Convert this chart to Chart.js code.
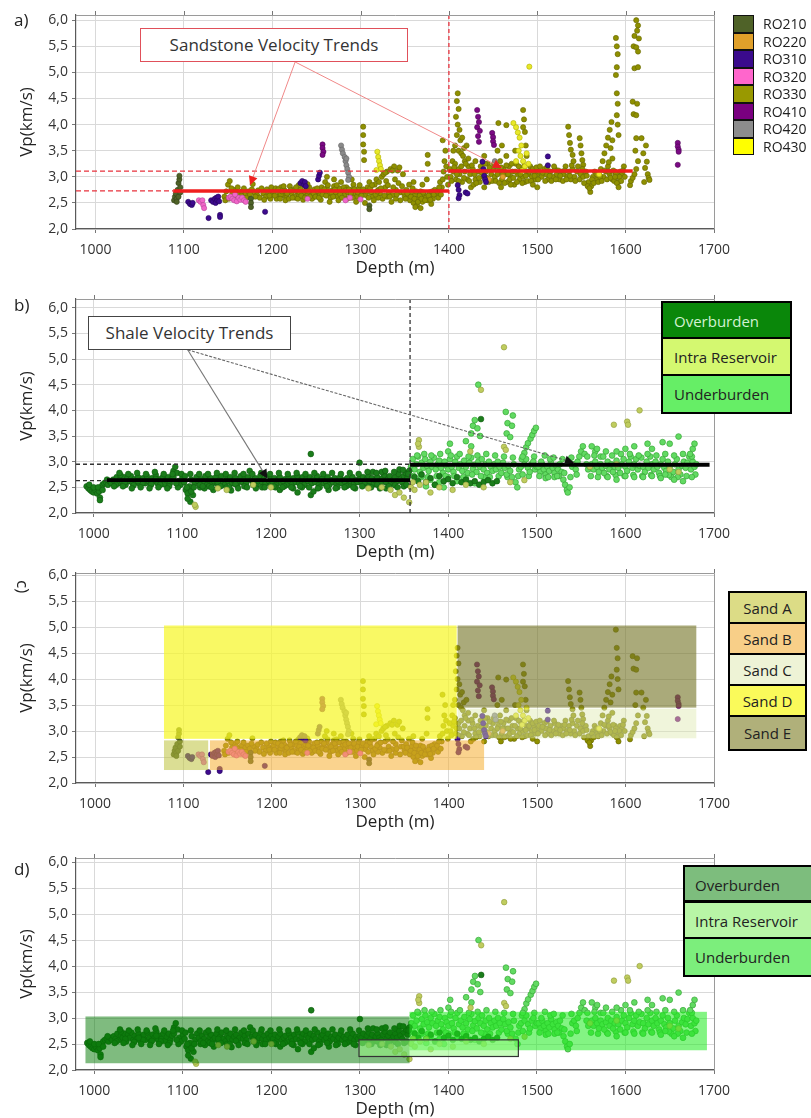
<!DOCTYPE html>
<html><head><meta charset="utf-8">
<script src="https://cdn.jsdelivr.net/npm/chart.js@4.4.1/dist/chart.umd.min.js"></script>
<style>
body{margin:0;background:#fff;font-family:'Open Sans',sans-serif;}
#wrap{position:relative;width:811px;height:1118px;overflow:hidden;background:#fff;}
canvas{position:absolute;left:0;}
.plbl{position:absolute;font-size:17px;color:#222;line-height:1;}
.callout{position:absolute;box-sizing:border-box;background:#fff;font-size:17px;color:#333;text-align:center;}
.leg{position:absolute;box-sizing:border-box;}
.legrow{box-sizing:border-box;font-size:15px;color:#222;white-space:nowrap;overflow:hidden;}
</style></head>
<body><div id="wrap">
<canvas id="ca" width="740" height="280" style="top:0px"></canvas>
<canvas id="cb" width="740" height="280" style="top:284px"></canvas>
<canvas id="cc" width="740" height="276" style="top:558px"></canvas>
<canvas id="cd" width="740" height="278" style="top:843px"></canvas>
<div class="plbl" style="left:14px;top:11px">a)</div>
<div class="plbl" style="left:14px;top:296px">b)</div>
<div class="plbl" style="top:580px;transform:rotate(90deg);transform-origin:left top;left:32px">c)</div>
<div class="plbl" style="left:14px;top:860px">d)</div>
<div class="callout" style="left:140px;top:28px;width:268px;height:34px;line-height:31px;border:1.5px solid #e0505a">Sandstone Velocity Trends</div>
<div class="callout" style="left:88px;top:316px;width:203px;height:34px;line-height:31px;border:1.5px solid #444">Shale Velocity Trends</div>
<div id="legA" class="leg" style="left:733px;top:15px;width:78px;"></div>
<div id="legB" class="leg" style="left:661px;top:301px;width:131px;border:2px solid #000;"></div>
<div id="legC" class="leg" style="left:728px;top:591px;width:79px;border:2px solid #000;"></div>
<div id="legD" class="leg" style="left:683px;top:865px;width:140px;border:2px solid #000;"></div>
</div>
<script>
// ---------- tick labels ----------
const depthTicks = [1000,1100,1200,1300,1400,1500,1600,1700];
const vpTicks = [2.0,2.5,3.0,3.5,4.0,4.5,5.0,5.5,6.0];

// ---------- panel a / c : sandstone points by reservoir unit ----------
const roNames = ['RO210','RO220','RO310','RO320','RO330','RO410','RO420','RO430'];
const ro210 = [[1089,2.55],[1090,2.62],[1091,2.68],[1092,2.58],[1093,2.75],[1094,2.88],[1095,2.95],[1095,3.02],[1096,2.80],[1094,2.62],[1092,2.52],[1096,2.70],
  [1176,2.58],[1176,2.50],[1176,2.42],[1310,2.45],[1310,2.38]];
const ro220 = [[1445,2.95],[1461,3.0]];
const ro310 = [[1105,2.52],[1107,2.48],[1109,2.46],[1110,2.50],[1128,2.21],[1131,2.55],[1133,2.52],[1135,2.58],[1136,2.50],[1137,2.60],[1138,2.55],[1139,2.62],[1140,2.53],[1141,2.27],[1141,2.23],
  [1192,2.33],[1232,2.88],[1234,2.92],[1236,2.85],[1237,2.90],[1238,2.82],[1252,2.95],[1253,3.02],[1254,3.08],
  [1410,2.84],[1411,2.75],[1412,2.65],[1411,2.59],[1419,2.70],[1421,2.68],[1438,3.29],[1439,3.15],[1440,3.02],[1441,2.95],[1442,2.90],[1512,3.39],[1512,3.22]];
const ro320 = [[1117,2.55],[1119,2.52],[1121,2.55],[1122,2.46],[1123,2.40],[1151,2.60],[1153,2.62],[1155,2.58],[1157,2.55],[1160,2.53],[1162,2.60],[1164,2.56],[1166,2.60],[1168,2.55],[1170,2.52],
  [1158,2.66],[1240,2.58],[1283,2.55],[1288,2.60],[1300,2.57]];
const ro330 = [
  [1146,2.62],[1148,2.72],[1150,2.85],[1152,2.92],[1155,2.68],[1158,2.75],[1160,2.70],[1163,2.66],[1166,2.72],[1170,2.68],[1173,2.72],[1178,2.86],[1180,2.70],[1183,2.65],[1186,2.60],[1190,2.68],[1193,2.62],[1196,2.70],[1198,2.58],[1200,2.66],
  [1147,2.55],[1151,2.58],[1154,2.78],[1157,2.62],[1161,2.80],[1165,2.64],[1168,2.78],[1171,2.60],[1175,2.66],[1177,2.76],[1181,2.62],[1184,2.74],[1188,2.78],[1191,2.56],[1194,2.76],[1197,2.64],[1199,2.80],
  [1202,2.72],[1204,2.78],[1206,2.62],[1208,2.70],[1210,2.80],[1212,2.65],[1214,2.74],[1216,2.60],[1218,2.70],[1220,2.82],[1222,2.68],[1224,2.75],[1226,2.60],[1228,2.72],[1230,2.66],[1232,2.78],[1234,2.62],[1236,2.70],[1238,2.74],[1240,2.65],[1242,2.80],[1244,2.70],[1246,2.60],[1248,2.76],[1250,2.68],
  [1205,2.58],[1215,2.55],[1225,2.62],[1235,2.56],[1245,2.58],[1210,2.66],[1230,2.84],[1240,2.86],
  [1203,2.64],[1207,2.76],[1209,2.58],[1211,2.72],[1213,2.82],[1217,2.68],[1219,2.58],[1221,2.74],[1223,2.60],[1227,2.80],[1229,2.58],[1231,2.70],[1233,2.64],[1237,2.60],[1239,2.80],[1241,2.72],[1243,2.62],[1247,2.68],[1249,2.62],
  [1252,2.72],[1254,2.65],[1256,2.80],[1258,2.70],[1260,2.90],[1262,2.78],[1264,2.68],[1266,2.60],[1268,2.74],[1270,2.82],[1272,2.70],[1274,2.62],[1276,2.78],[1278,2.90],[1280,2.72],[1282,2.65],[1284,2.80],[1286,2.70],[1288,2.60],[1290,2.75],[1292,2.85],[1294,2.68],[1296,2.62],[1298,2.78],[1300,2.70],
  [1255,2.56],[1265,2.52],[1275,2.55],[1285,2.58],[1295,2.52],[1270,2.95],[1262,3.00],[1290,2.95],
  [1251,2.78],[1253,2.60],[1257,2.66],[1259,2.76],[1261,2.64],[1263,2.84],[1267,2.70],[1269,2.62],[1271,2.76],[1273,2.84],[1277,2.66],[1279,2.60],[1281,2.80],[1283,2.74],[1287,2.76],[1289,2.68],[1291,2.60],[1293,2.76],[1297,2.70],[1299,2.84],
  [1303,3.96],[1303,3.80],[1303,3.62],[1304,3.48],[1304,3.32],[1302,2.72],[1306,2.65],[1308,2.80],[1310,2.90],[1312,2.70],[1314,2.62],[1316,2.85],[1318,2.95],[1320,2.75],[1322,2.68],[1324,3.00],[1326,3.05],[1328,2.80],[1330,3.10],[1332,2.70],[1334,3.15],[1336,2.65],[1338,3.20],[1340,2.75],[1342,3.12],[1344,3.18],[1346,2.70],[1348,3.05],[1350,2.62],
  [1305,2.50],[1315,2.55],[1325,2.58],[1335,2.52],[1345,2.55],[1320,2.60],[1330,2.62],[1340,2.58],[1328,3.08],[1336,3.12],
  [1301,2.64],[1303,2.76],[1307,2.72],[1309,2.60],[1311,2.78],[1313,2.84],[1317,2.66],[1319,2.72],[1321,2.90],[1323,2.78],[1327,2.64],[1329,2.92],[1331,2.84],[1333,2.62],[1337,2.80],[1339,2.95],[1341,2.66],[1343,2.88],[1347,2.82],[1349,2.70],
  [1352,2.75],[1354,2.62],[1356,2.55],[1358,2.70],[1360,2.50],[1362,2.66],[1364,2.45],[1366,2.58],[1368,2.72],[1370,2.52],[1372,2.65],[1374,2.60],[1376,2.55],[1378,2.70],[1380,2.62],[1382,2.58],[1384,2.75],[1386,2.66],[1388,2.60],[1390,2.90],[1392,2.80],[1394,3.10],[1395,3.30],[1396,3.50],[1397,3.20],[1398,3.00],[1399,2.85],
  [1376,3.42],[1376,3.25],[1393,3.70],[1370,2.85],[1375,2.95],[1360,2.90],[1355,2.85],[1362,2.42],[1368,2.40],[1380,2.48],
  [1351,2.58],[1353,2.68],[1357,2.62],[1359,2.78],[1361,2.58],[1363,2.72],[1365,2.52],[1367,2.64],[1369,2.58],[1371,2.70],[1373,2.55],[1377,2.64],[1379,2.56],[1381,2.72],[1383,2.66],[1387,2.72],[1389,2.80],[1391,2.66],[1393,2.95],
  [1410,4.60],[1409,4.45],[1411,4.30],[1408,4.15],[1410,4.00],[1412,3.90],[1409,3.80],[1413,3.70],[1407,3.60],[1411,3.50],[1415,3.75],[1414,3.45],[1417,3.55],[1418,3.30],[1420,3.60],[1416,3.40],[1422,3.20],[1405,3.50],[1404,3.30],[1407,3.25],[1411,3.15],
  [1402,3.00],[1405,3.10],[1408,2.95],[1412,3.05],[1415,2.90],[1418,3.10],[1421,2.95],[1424,3.05],[1427,3.15],[1430,2.95],[1433,3.10],[1436,3.20],[1439,3.00],[1442,3.10],[1445,2.90],[1448,3.05],[1450,3.15],
  [1425,2.80],[1428,2.85],[1435,2.90],[1440,2.80],[1430,3.30],[1440,3.40],[1444,3.25],[1422,3.35],
  [1401,3.15],[1403,2.92],[1406,3.18],[1409,3.05],[1411,2.92],[1414,3.20],[1417,2.98],[1419,3.25],[1423,2.92],[1426,3.22],[1429,3.05],[1431,2.88],[1434,2.98],[1437,3.08],[1441,3.25],[1443,2.98],[1446,3.18],[1449,2.92],
  [1452,3.00],[1454,3.20],[1456,3.10],[1458,3.30],[1460,2.95],[1462,3.15],[1464,3.05],[1466,2.90],[1468,3.20],[1470,3.00],[1472,3.10],[1474,2.85],[1476,3.25],[1478,3.05],[1480,2.95],[1482,3.15],[1484,3.00],[1486,2.90],[1488,3.10],[1490,3.05],[1492,3.20],[1494,3.00],[1496,3.10],[1498,2.95],[1500,3.05],
  [1451,3.25],[1453,2.92],[1455,3.05],[1457,2.88],[1459,3.18],[1461,3.05],[1463,2.88],[1465,3.22],[1467,3.05],[1469,2.95],[1471,3.25],[1473,2.98],[1475,3.10],[1477,2.90],[1479,3.20],[1481,3.05],[1483,2.88],[1485,3.20],[1487,3.02],[1489,2.92],[1491,3.10],[1493,2.92],[1495,3.15],[1497,3.02],[1499,3.18],
  [1456,4.03],[1465,3.99],[1455,3.50],[1460,3.60],[1465,3.40],[1484,4.28],[1485,4.10],[1484,3.95],[1486,3.86],[1487,3.60],[1488,3.40],[1459,2.80],[1470,2.85],[1495,2.85],[1500,2.80],[1475,3.50],
  [1502,3.10],[1505,3.00],[1508,3.15],[1510,3.05],[1512,2.95],[1515,3.10],[1518,3.00],[1520,3.15],[1522,3.05],[1525,2.95],[1528,3.10],[1530,3.05],[1532,3.20],[1534,3.00],[1536,3.10],[1538,2.95],[1540,3.15],[1542,3.00],[1545,3.10],[1548,2.95],[1550,3.05],
  [1501,2.95],[1503,3.20],[1506,3.08],[1509,2.92],[1511,3.18],[1514,3.02],[1516,2.92],[1519,3.20],[1521,2.95],[1524,3.12],[1526,3.02],[1529,2.92],[1531,3.12],[1533,2.95],[1537,3.02],[1539,3.22],[1543,2.92],[1546,3.20],[1549,3.05],
  [1535,3.96],[1536,3.80],[1537,3.65],[1538,3.52],[1540,3.42],[1541,3.30],[1548,3.74],[1549,3.60],[1550,3.45],[1551,3.32],[1552,3.23],
  [1552,3.00],[1555,3.10],[1558,2.90],[1560,2.71],[1561,2.82],[1563,3.00],[1565,3.10],[1568,2.95],[1570,3.05],[1572,3.15],[1575,3.00],[1578,3.10],[1580,3.20],[1582,3.05],[1585,2.95],[1588,3.10],[1590,3.00],[1592,2.90],[1594,3.10],[1596,3.05],[1598,3.20],
  [1551,3.15],[1553,2.88],[1556,3.02],[1557,2.82],[1559,2.78],[1562,2.95],[1564,2.88],[1567,3.05],[1569,2.90],[1571,3.00],[1573,2.92],[1576,3.12],[1579,2.95],[1581,3.10],[1583,2.98],[1586,3.12],[1587,2.92],[1589,3.05],[1593,3.00],[1595,2.92],[1597,3.12],[1599,3.00],
  [1574,3.30],[1576,3.45],[1578,3.60],[1580,3.75],[1582,3.90],[1584,4.05],[1583,3.55],[1585,3.35],[1581,3.28],[1585,3.70],
  [1589,5.66],[1590,5.50],[1591,5.35],[1590,5.10],[1589,4.95],[1590,4.60],[1591,4.40],[1590,4.18],[1591,4.00],[1592,3.80],[1588,3.00],[1590,2.88],[1592,2.80],
  [1605,2.84],[1606,2.92],[1608,2.98],[1610,3.05],[1612,3.15],[1614,3.30],[1611,3.50],[1612,3.74],
  [1612,6.00],[1614,5.90],[1613,5.80],[1610,5.70],[1615,5.65],[1609,5.50],[1612,5.48],[1614,5.40],[1610,5.08],[1614,5.10],[1608,4.44],[1613,4.40],[1609,4.20],[1612,4.18],
  [1618,3.74],[1620,3.45],[1623,3.60],[1624,3.29],[1622,3.17],[1625,3.05],[1626,2.98],[1627,2.94],[1621,2.90]];
const ro410 = [[1257,3.62],[1257,3.55],[1258,3.48],[1257,3.42],[1432,4.28],[1433,4.15],[1434,4.05],[1432,3.95],[1435,3.88],[1433,3.78],[1434,3.67],
  [1449,3.84],[1450,3.76],[1450,3.68],[1451,3.61],[1659,3.65],[1659,3.58],[1660,3.52],[1660,3.48],[1659,3.23]];
const ro420 = [[1278,3.60],[1279,3.52],[1280,3.45],[1282,3.38],[1283,3.30],[1284,3.22],[1285,3.15],[1286,3.08],[1284,3.35],[1287,3.00],[1286,2.94],[1452,3.30],[1453,3.22]];
const ro430 = [[1319,3.48],[1320,3.38],[1321,3.30],[1322,3.22],[1323,3.15],[1318,3.13],
  [1473,4.03],[1476,3.95],[1478,3.85],[1480,3.75],[1482,3.60],[1479,3.50],[1481,3.40],[1484,3.30],[1486,3.20],[1483,3.12],[1476,3.30],[1488,3.45],[1490,3.25],[1491,5.11],[1570,3.05]];

// ---------- panel b / d : shale points by zone ----------
const zoneNames = ['Overburden','Intra Reservoir','Underburden'];
const overburden = [
  [992,2.52],[994,2.48],[996,2.45],[998,2.42],[1000,2.40],[1002,2.44],[1004,2.38],[1006,2.42],[1008,2.50],[1010,2.55],[1012,2.58],[1014,2.60],[1016,2.55],[1018,2.62],[1020,2.58],[995,2.55],[1000,2.50],[1005,2.50],[1007,2.30],[1007,2.25],[1010,2.45],[1015,2.65],
  [1022,2.65],[1024,2.60],[1026,2.70],[1028,2.58],[1030,2.66],[1032,2.62],[1034,2.70],[1036,2.55],[1038,2.68],[1040,2.62],[1042,2.72],[1044,2.58],[1046,2.66],[1048,2.60],[1050,2.70],[1052,2.56],[1054,2.64],[1056,2.68],[1058,2.58],[1060,2.72],[1062,2.62],[1064,2.55],[1066,2.68],[1068,2.62],[1070,2.74],[1072,2.58],[1074,2.66],[1076,2.60],[1078,2.70],[1080,2.56],[1082,2.64],[1084,2.70],[1086,2.58],[1088,2.66],[1090,2.82],[1092,2.90],[1094,2.78],[1096,2.62],[1098,2.55],[1100,2.68],
  [1025,2.55],[1035,2.60],[1045,2.54],[1055,2.58],[1065,2.56],[1075,2.55],[1085,2.52],[1095,2.50],[1030,2.74],[1050,2.62],[1070,2.66],[1090,2.70],
  [1023,2.52],[1029,2.78],[1033,2.52],[1039,2.76],[1043,2.48],[1049,2.78],[1053,2.50],[1059,2.76],[1063,2.48],[1069,2.80],[1073,2.50],[1079,2.76],[1083,2.48],[1089,2.76],[1093,2.58],[1099,2.76],
  [1102,2.60],[1104,2.45],[1106,2.38],[1108,2.52],[1110,2.65],[1112,2.35],[1114,2.58],[1116,2.70],[1118,2.62],[1120,2.50],[1122,2.66],[1124,2.60],[1126,2.72],[1128,2.55],[1130,2.64],[1132,2.68],[1134,2.58],[1136,2.62],[1138,2.70],[1140,2.56],[1142,2.64],[1144,2.72],[1146,2.60],[1148,2.55],[1150,2.66],[1152,2.62],[1154,2.70],[1156,2.58],[1158,2.64],[1160,2.68],[1162,2.55],[1164,2.62],[1166,2.72],[1168,2.60],[1170,2.66],[1172,2.58],[1174,2.70],[1176,2.82],[1178,2.64],[1180,2.60],[1182,2.68],[1184,2.55],[1186,2.62],[1188,2.72],[1190,2.60],[1192,2.66],[1194,2.58],[1196,2.70],[1198,2.62],[1200,2.66],
  [1105,2.50],[1110,2.42],[1109,2.22],[1106,2.28],[1120,2.55],[1130,2.52],[1140,2.60],[1150,2.50],[1160,2.56],[1170,2.52],[1180,2.55],[1190,2.50],[1200,2.55],[1125,2.48],[1135,2.45],[1155,2.44],
  [1103,2.72],[1109,2.76],[1113,2.50],[1119,2.76],[1123,2.52],[1129,2.76],[1133,2.50],[1139,2.78],[1143,2.52],[1149,2.76],[1153,2.50],[1159,2.78],[1163,2.48],[1169,2.76],[1173,2.50],[1179,2.76],[1183,2.48],[1189,2.78],[1193,2.50],[1199,2.76],
  [1202,2.60],[1204,2.68],[1206,2.55],[1208,2.64],[1210,2.70],[1212,2.58],[1214,2.62],[1216,2.66],[1218,2.55],[1220,2.70],[1222,2.62],[1224,2.56],[1226,2.68],[1228,2.60],[1230,2.72],[1232,2.58],[1234,2.64],[1236,2.70],[1238,2.55],[1240,2.66],[1242,2.62],[1245,3.15],[1244,2.70],[1246,2.58],[1248,2.66],[1250,2.60],[1252,2.72],[1254,2.55],[1256,2.64],[1258,2.68],[1260,2.58],[1262,2.62],[1264,2.70],[1266,2.55],[1268,2.64],[1270,2.60],[1272,2.68],[1274,2.56],[1276,2.62],[1278,2.70],[1280,2.58],[1282,2.64],[1284,2.60],[1286,2.68],[1288,2.55],[1290,2.62],[1292,2.70],[1294,2.58],[1296,2.64],[1298,2.60],[1300,2.66],
  [1205,2.50],[1215,2.52],[1225,2.48],[1235,2.50],[1245,2.35],[1248,2.42],[1255,2.50],[1265,2.45],[1275,2.50],[1285,2.52],[1295,2.48],[1230,2.40],[1210,2.45],
  [1203,2.52],[1209,2.78],[1213,2.50],[1219,2.76],[1223,2.50],[1229,2.78],[1233,2.52],[1239,2.76],[1243,2.50],[1249,2.78],[1253,2.48],[1259,2.76],[1263,2.52],[1269,2.78],[1273,2.48],[1279,2.76],[1283,2.50],[1289,2.78],[1293,2.50],[1299,2.76],
  [1302,2.62],[1304,2.70],[1306,2.58],[1308,2.66],[1310,2.72],[1312,2.60],[1314,2.68],[1316,2.56],[1318,2.64],[1320,2.70],[1322,2.62],[1324,2.58],[1326,2.68],[1328,2.74],[1330,2.60],[1332,2.66],[1334,2.72],[1336,2.58],[1338,2.64],[1340,2.70],[1342,2.62],[1344,2.76],[1346,2.66],[1348,2.60],[1350,2.72],[1352,2.78],[1354,2.68],[1356,2.82],
  [1300,2.98],[1310,2.52],[1320,2.55],[1330,2.48],[1340,2.54],[1350,2.52],[1315,2.80],[1325,2.80],[1345,2.85],
  [1303,2.52],[1309,2.80],[1313,2.50],[1319,2.78],[1323,2.48],[1329,2.82],[1333,2.52],[1339,2.80],[1343,2.50],[1349,2.84],[1353,2.55],[1355,2.76],
  [1362,2.70],[1366,2.62],[1370,2.75],[1375,2.60],[1380,2.68],[1385,2.55],[1390,2.72],[1395,2.62],[1400,2.66],[1405,2.58],[1410,2.70],[1415,2.60],[1420,2.65],[1425,2.58],[1430,2.62],[1435,2.55],[1440,2.60],[1445,2.64],[1450,2.58],[1455,2.62],[1437,3.83]];
const intraReservoir = [[1340,2.35],[1345,2.40],[1350,2.30],[1356,2.21],[1358,2.50],[1360,2.60],[1362,2.45],[1367,3.42],[1367,3.29],[1366,3.35],[1368,2.55],[1375,2.60],[1380,2.40],[1390,2.50],[1405,2.45],[1420,2.55],[1425,3.20],[1440,2.50],
  [1463,5.23],[1437,4.40],[1463,3.29],[1465,3.23],[1470,2.60],[1486,2.64],[1587,3.72],[1602,3.78],[1603,3.72],[1616,4.00],[1590,2.95],[1560,2.90],
  [1200,2.50],[1180,2.55],[1150,2.45],[1115,2.12],[1114,2.16],[1140,2.48],[1325,2.50],[1335,2.45],[1310,2.48],[1650,2.85],[1660,2.80]];
const underburden = [
  [1358,2.90],[1360,3.05],[1362,2.85],[1364,2.95],[1366,3.10],[1368,2.80],[1370,2.98],[1372,2.88],[1374,3.05],[1376,2.92],[1378,2.82],[1380,3.00],[1382,2.90],[1384,3.08],[1386,2.85],[1388,2.95],[1390,3.02],[1392,2.88],[1394,2.78],[1396,3.00],[1398,2.92],[1400,2.85],[1402,3.05],[1404,2.90],[1406,2.80],[1408,3.00],[1410,3.10],[1412,2.88],[1414,2.95],[1416,2.82],[1418,3.02],[1420,2.90],[1422,2.78],[1424,2.98],[1426,3.08],[1428,2.86],[1430,2.94],[1432,2.80],[1434,3.00],[1436,2.90],[1438,3.05],[1440,2.85],[1442,2.95],[1444,2.78],[1446,3.00],[1448,2.90],[1450,2.82],
  [1400,3.20],[1402,3.35],[1426,3.55],[1428,3.70],[1430,3.81],[1433,3.65],[1436,3.50],[1426,3.30],[1420,3.40],[1434,4.50],
  [1370,2.70],[1380,2.65],[1390,2.60],[1400,2.70],[1410,2.62],[1420,2.68],[1430,2.58],[1440,2.70],[1385,2.55],[1395,2.50],[1375,2.52],
  [1361,2.72],[1365,3.12],[1369,2.72],[1373,3.15],[1377,2.70],[1381,3.12],[1387,2.72],[1391,3.15],[1397,2.72],[1403,3.12],[1407,2.72],[1413,3.15],[1417,2.70],[1423,3.10],[1427,2.75],[1433,3.12],[1437,2.72],[1443,3.15],[1447,2.70],[1453,3.12],[1457,2.72],[1463,3.10],[1467,2.70],[1473,3.08],[1479,2.72],[1483,3.05],[1491,2.72],[1497,3.10],
  [1452,2.95],[1454,2.85],[1456,3.00],[1458,2.90],[1460,2.78],[1462,2.98],[1464,2.88],[1466,2.75],[1468,2.92],[1470,2.82],[1472,2.70],[1474,2.95],[1476,2.60],[1478,2.50],[1480,2.85],[1482,2.90],[1484,2.75],[1486,2.95],[1488,3.05],[1490,2.88],[1492,2.80],[1494,2.95],[1496,3.00],[1498,2.85],[1500,2.90],
  [1465,3.97],[1473,3.90],[1467,3.75],[1472,3.70],[1466,3.55],[1470,3.48],[1486,3.17],[1488,3.28],[1490,3.36],[1493,3.45],[1495,3.52],[1497,3.60],[1499,3.66],[1484,3.10],
  [1502,2.90],[1504,2.80],[1506,2.95],[1508,2.85],[1510,2.75],[1512,2.90],[1514,2.82],[1516,2.98],[1518,2.88],[1520,2.78],[1522,2.92],[1524,2.85],[1526,2.95],[1528,2.80],[1530,2.65],[1532,2.55],[1534,2.45],[1535,2.40],[1537,2.50],[1538,2.70],[1540,2.90],[1542,2.95],[1544,2.85],[1546,3.00],[1548,3.10],[1550,3.20],[1552,3.30],[1554,3.15],[1556,2.95],[1558,2.85],[1560,2.90],
  [1510,2.68],[1520,2.70],[1525,2.72],[1505,3.00],[1515,3.05],[1562,3.30],[1566,3.20],[1572,3.10],
  [1503,2.72],[1509,3.12],[1513,2.70],[1519,3.08],[1523,2.72],[1529,3.05],[1531,2.78],[1539,3.08],[1545,2.75],[1557,3.10],[1561,2.72],[1565,3.12],[1569,2.70],[1575,3.10],[1579,2.72],[1585,3.12],[1589,2.74],[1595,3.15],[1599,2.72],
  [1562,2.95],[1564,2.85],[1566,3.00],[1568,2.90],[1570,2.80],[1572,2.95],[1574,2.88],[1576,2.78],[1578,2.92],[1580,3.00],[1582,2.85],[1584,2.95],[1586,2.80],[1588,2.90],[1590,3.02],[1592,2.88],[1594,2.78],[1596,2.95],[1598,3.05],[1600,2.90],[1602,2.82],[1604,3.00],[1606,3.10],[1608,2.88],[1610,2.95],[1612,3.05],[1614,2.85],[1616,2.92],[1618,3.08],[1620,2.90],[1622,2.80],[1624,3.00],[1626,2.88],[1628,3.10],[1630,2.95],[1632,2.85],[1634,3.00],[1636,2.90],[1638,2.78],[1640,2.95],[1642,3.05],[1644,2.88],[1646,2.82],[1648,3.00],[1650,2.90],[1652,2.70],[1654,2.80],[1656,2.95],[1658,3.05],[1660,2.85],[1662,2.75],[1664,2.92],[1666,3.00],[1668,2.88],[1670,2.98],[1672,3.10],[1674,2.85],[1676,3.00],[1678,2.90],[1680,2.95],
  [1605,3.15],[1609,2.74],[1615,3.12],[1619,2.72],[1625,3.15],[1629,2.74],[1635,3.12],[1639,2.72],[1645,3.15],[1649,2.74],[1655,3.12],[1659,2.70],[1665,3.15],[1669,2.72],[1675,3.10],[1679,2.75],
  [1580,2.70],[1600,2.72],[1620,2.70],[1640,2.68],[1655,2.65],[1665,2.62],[1675,2.70],[1590,2.65],[1610,2.70],[1630,2.72],[1645,2.75],
  [1590,3.20],[1600,3.25],[1610,3.30],[1625,3.35],[1630,3.25],[1642,3.38],[1650,3.35],[1660,3.49],[1673,3.15],[1676,3.25],[1678,3.35],[1568,3.25],[1578,3.20]];

// ---------- interpreted trends and zones ----------
const sandTrends = [[1088,1400,2.73],[1400,1608,3.11]];
const sandBreak = 1400;
const shaleTrends = [[1015,1357,2.64],[1357,1695,2.94]];
const shaleBreak = 1357;
const sandNames = ['Sand A','Sand B','Sand C','Sand D','Sand E'];
const sandZones = [[1078,1128,2.25,2.82],[1130,1440,2.25,2.82],[1410,1680,2.86,3.43],[1078,1409,2.85,5.03],[1410,1680,3.45,5.03]];
const shaleZones = [[990,1356,2.13,3.03],[1299,1479,2.26,2.58],[1356,1692,2.38,3.12]];

// ---------- styles ----------
const roFill = {RO210:'#4f6228',RO220:'#e0a02a',RO310:'#3d0a8e',RO320:'#f066c8',RO330:'#8f9000',RO410:'#7b0a84',RO420:'#8a8a8a',RO430:'#e8e82a'};
const roEdge = {RO210:'#34431a',RO220:'#a8741a',RO310:'#26055a',RO320:'#b8449a',RO330:'#666600',RO410:'#4f0556',RO420:'#666666',RO430:'#b0b000'};
const roLeg = {RO210:'#4f6228',RO220:'#e0a02a',RO310:'#3a0a8c',RO320:'#ff66cc',RO330:'#999900',RO410:'#7a0080',RO420:'#8c8c8c',RO430:'#ffff00'};
const roData = {RO210:ro210,RO220:ro220,RO310:ro310,RO320:ro320,RO330:ro330,RO410:ro410,RO420:ro420,RO430:ro430};
const drawOrderA = ['RO430','RO420','RO410','RO310','RO320','RO210','RO220','RO330'];

Chart.defaults.font.family = 'Open Sans';
Chart.defaults.color = '#333';

function scalesCfg(xmin, ymax){
  return {
    x: {type:'linear', min:xmin, max:1700,
      afterBuildTicks: s => { s.ticks = depthTicks.map(v=>({value:v})); },
      afterFit: s => { s.height = 51; },
      ticks:{font:{size:14}, color:'#333', padding:9, maxRotation:0, autoSkip:false, callback:v=>String(v)},
      grid:{color:'#d9d9d9', tickLength:4, tickColor:'#777'},
      border:{color:'#5a5a5a', width:1.2},
      title:{display:true, text:'Depth (m)', font:{size:17}, color:'#222', padding:{top:0,bottom:2}}},
    y: {type:'linear', min:2.0, max:ymax,
      afterBuildTicks: s => { s.ticks = vpTicks.map(v=>({value:v})); },
      afterFit: s => { s.width = 76; },
      ticks:{font:{size:14}, color:'#333', padding:4, autoSkip:false, callback:v=>v.toFixed(1).replace('.',',')},
      grid:{color:'#d9d9d9', tickLength:4, tickColor:'#777'},
      border:{color:'#5a5a5a', width:1.2},
      title:{display:true, text:'Vp(km/s)', font:{size:17}, color:'#222', padding:{top:17,bottom:0}}}
  };
}

const overlay = {
  id:'overlay',
  afterDatasetsDraw(chart, args, o){
    const {ctx, chartArea:ca, scales:{x,y}} = chart;
    const X = v => x.getPixelForValue(v), Y = v => y.getPixelForValue(v);
    ctx.save();
    for (const b of (o.boxes||[])) {
      const x0=X(b.r[0]), x1=X(b.r[1]), y0=Y(b.r[2]), y1=Y(b.r[3]);
      ctx.fillStyle=b.fill; ctx.fillRect(x0,y1,x1-x0,y0-y1);
      if (b.stroke){ ctx.strokeStyle=b.stroke; ctx.lineWidth=1.2; ctx.strokeRect(x0,y1,x1-x0,y0-y1); }
    }
    for (const l of (o.lines||[])) {
      ctx.strokeStyle=l.color; ctx.lineWidth=l.width; ctx.setLineDash(l.dash||[]);
      ctx.beginPath(); ctx.moveTo(X(l.p[0]),Y(l.p[1])); ctx.lineTo(X(l.p[2]),Y(l.p[3])); ctx.stroke();
      if (l.arrow){
        const x1=X(l.p[0]),y1=Y(l.p[1]),x2=X(l.p[2]),y2=Y(l.p[3]);
        const a=Math.atan2(y2-y1,x2-x1), L=9, W=4.5;
        ctx.setLineDash([]); ctx.fillStyle=l.arrow;
        ctx.beginPath(); ctx.moveTo(x2,y2);
        ctx.lineTo(x2-L*Math.cos(a)+W*Math.sin(a), y2-L*Math.sin(a)-W*Math.cos(a));
        ctx.lineTo(x2-L*Math.cos(a)-W*Math.sin(a), y2-L*Math.sin(a)+W*Math.cos(a));
        ctx.closePath(); ctx.fill();
      }
    }
    ctx.setLineDash([]);
    ctx.strokeStyle='#9a9a9a'; ctx.lineWidth=1;
    ctx.beginPath(); ctx.moveTo(ca.left,Math.round(ca.top)+0.5); ctx.lineTo(Math.round(ca.right)+0.5,Math.round(ca.top)+0.5); ctx.lineTo(Math.round(ca.right)+0.5,ca.bottom); ctx.stroke();
    ctx.strokeStyle='#777';
    for (const t of depthTicks){ const px=Math.round(X(t))+0.5; ctx.beginPath(); ctx.moveTo(px,ca.top-4); ctx.lineTo(px,ca.top); ctx.stroke(); }
    ctx.restore();
  }
};

function makeChart(id, datasets, xmin, ymax, ov){
  return new Chart(document.getElementById(id), {
    type:'scatter',
    data:{datasets},
    options:{responsive:false, animation:false, devicePixelRatio:1, events:[],
      layout:{padding:{top:15,right:26,left:0,bottom:0}},
      plugins:{legend:{display:false}, tooltip:{enabled:false}, overlay:ov},
      scales:scalesCfg(xmin,ymax)},
    plugins:[overlay]
  });
}

function sandSets(filter){
  return drawOrderA.map(n => ({label:n, data: filter ? roData[n].filter(p=>p[1]<=5.05) : roData[n],
    backgroundColor:roFill[n], borderColor:roEdge[n], borderWidth:0.6, pointRadius:2.6}));
}
function shaleSets(){
  return [
    {label:zoneNames[1], data:intraReservoir, backgroundColor:'#bfcc5e', borderColor:'#8f9a3a', borderWidth:0.6, pointRadius:2.8},
    {label:zoneNames[0], data:overburden, backgroundColor:'#1b7d1b', borderColor:'#0f5a0f', borderWidth:0.6, pointRadius:2.9},
    {label:zoneNames[2], data:underburden, backgroundColor:'#62da62', borderColor:'#38a838', borderWidth:0.7, pointRadius:2.9}
  ];
}

// ---- panel a ----
const ymA = 6.1;
makeChart('ca', sandSets(false), 978, ymA, {lines:[
  {p:[978,sandTrends[1][2],sandBreak,sandTrends[1][2]], color:'#e8323c', width:1.3, dash:[5,3]},
  {p:[978,sandTrends[0][2],sandTrends[0][0],sandTrends[0][2]], color:'#e8323c', width:1.3, dash:[5,3]},
  {p:[sandBreak,2.0,sandBreak,ymA], color:'#e8323c', width:1.3, dash:[4,3]},
  {p:[sandTrends[0][0],sandTrends[0][2],sandTrends[0][1],sandTrends[0][2]], color:'#f01e1e', width:3.5},
  {p:[sandTrends[1][0],sandTrends[1][2],sandTrends[1][1],sandTrends[1][2]], color:'#f01e1e', width:3.5},
  {p:[1226,5.2,1175,2.84], color:'#f08888', width:1, arrow:'#ee2020'},
  {p:[1226,5.2,1460,3.17], color:'#f08888', width:1, arrow:'#ee2020'}
]});

// ---- panel b ----
const ymB = 6.17;
makeChart('cb', shaleSets(), 980, ymB, {lines:[
  {p:[980,shaleTrends[1][2]+0.01,shaleBreak,shaleTrends[1][2]+0.01], color:'#333', width:1.3, dash:[4,3]},
  {p:[980,shaleTrends[0][2]-0.01,shaleTrends[0][0],shaleTrends[0][2]-0.01], color:'#333', width:1.3, dash:[4,3]},
  {p:[shaleBreak,2.0,shaleBreak,ymB], color:'#333', width:1.3, dash:[4,3]},
  {p:[shaleTrends[0][0],shaleTrends[0][2],shaleTrends[0][1],shaleTrends[0][2]], color:'#000', width:3.8},
  {p:[shaleTrends[1][0],shaleTrends[1][2],shaleTrends[1][1],shaleTrends[1][2]], color:'#000', width:3.8},
  {p:[1106,5.18,1196,2.67], color:'#777', width:1.1, arrow:'#111'},
  {p:[1106,5.18,1542,2.98], color:'#666', width:1.1, dash:[3,1.5], arrow:'#111'}
]});

// ---- panel c ----
const sandFill = ['rgba(190,195,60,0.55)','rgba(245,175,50,0.55)','rgba(222,232,175,0.45)','rgba(246,246,40,0.72)','rgba(118,118,40,0.62)'];
makeChart('cc', sandSets(true), 978.5, 6.04, {boxes: sandZones.map((r,i)=>({r, fill:sandFill[i]}))});

// ---- panel d ----
const shaleFill = ['rgba(0,120,0,0.5)','rgba(150,250,130,0.55)','rgba(30,235,30,0.55)'];
makeChart('cd', shaleSets(), 979.3, 6.08, {boxes:[
  {r:shaleZones[0], fill:shaleFill[0]},
  {r:shaleZones[2], fill:shaleFill[2]},
  {r:shaleZones[1], fill:shaleFill[1], stroke:'#333'}
]});

// ---------- legends (HTML text) ----------
const legA = document.getElementById('legA');
roNames.forEach(n => {
  const row = document.createElement('div');
  row.style.cssText = 'position:relative;height:17.5px;';
  row.innerHTML = '<div style="position:absolute;left:0;top:0;width:21px;height:17.5px;box-sizing:border-box;border:1.5px solid #111;background:'+roLeg[n]+'"></div>'+
    '<div style="position:absolute;left:30px;top:0;font-size:14px;line-height:17.5px;color:#222">'+n+'</div>';
  legA.appendChild(row);
});
function boxLegend(id, names, colors, textColors, heights, align, pad, seps){
  const el = document.getElementById(id);
  names.forEach((n,i) => {
    const r = document.createElement('div');
    r.className = 'legrow';
    r.style.cssText += 'height:'+heights[i]+'px;line-height:'+heights[i]+'px;background:'+colors[i]+';color:'+textColors[i]+';text-align:'+align+';padding-left:'+pad+'px;'+(i<names.length-1?'border-bottom:'+seps[i]+'px solid #000;':'');
    r.textContent = n;
    el.appendChild(r);
  });
}
boxLegend('legB', zoneNames, ['#0a870a','#d4f870','#66ee66'], ['#d2f2d2','#222','#222'], [36,37,36], 'left', 11, [2,2]);
boxLegend('legC', sandNames, ['#dcdc86','#f8cf88','#eef3d6','#fafa5a','#b0b07a'], ['#222','#222','#222','#222','#222'], [31,31,31,31,32], 'center', 0, [2,2,2,2]);
boxLegend('legD', zoneNames, ['#7dbd7d','#b8f5a6','#7cee7c'], ['#222','#222','#222'], [36,36,36], 'left', 10, [3,2]);
</script>
</body></html>
